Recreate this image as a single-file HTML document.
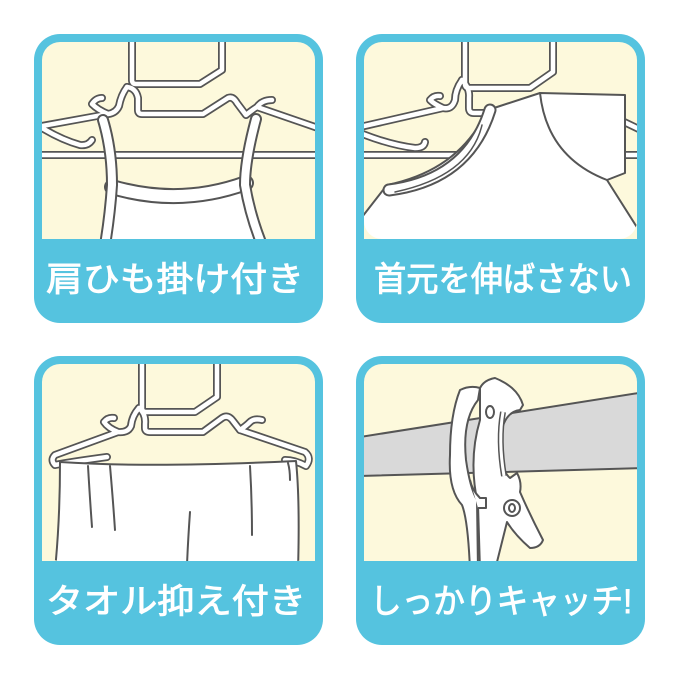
<!DOCTYPE html>
<html><head><meta charset="utf-8"><style>
html,body{margin:0;padding:0;background:#fff;}
svg{display:block;}
text{font-family:"Liberation Sans","Noto Sans CJK JP",sans-serif;fill:#fff;font-size:34px;stroke:#fff;stroke-width:0.9;}
</style></head><body>
<svg width="680" height="680" viewBox="0 0 680 680" xmlns="http://www.w3.org/2000/svg">
<defs>
<clipPath id="c1"><rect x="42" y="42" width="273" height="197" rx="18"/></clipPath>
<clipPath id="c2"><rect x="364" y="42" width="273" height="197" rx="18"/></clipPath>
<clipPath id="c3"><rect x="42" y="364" width="273" height="197" rx="18"/></clipPath>
<clipPath id="c4"><rect x="364" y="364" width="273" height="197" rx="18"/></clipPath>
</defs>
<g id="frames">
<rect x="34" y="34" width="289" height="289" rx="26" fill="#55c3df"/>
<rect x="42" y="42" width="273" height="230" rx="18" fill="#fdf9dc"/>
<rect x="42" y="239" width="273" height="40" fill="#55c3df"/>
<rect x="356" y="34" width="289" height="289" rx="26" fill="#55c3df"/>
<rect x="364" y="42" width="273" height="230" rx="18" fill="#fdf9dc"/>
<rect x="364" y="239" width="273" height="40" fill="#55c3df"/>
<rect x="34" y="356" width="289" height="289" rx="26" fill="#55c3df"/>
<rect x="42" y="364" width="273" height="230" rx="18" fill="#fdf9dc"/>
<rect x="42" y="561" width="273" height="40" fill="#55c3df"/>
<rect x="356" y="356" width="289" height="289" rx="26" fill="#55c3df"/>
<rect x="364" y="364" width="273" height="230" rx="18" fill="#fdf9dc"/>
<rect x="364" y="561" width="273" height="40" fill="#55c3df"/>
</g>

<!-- Panel 1 -->
<g clip-path="url(#c1)" fill="none" stroke-linecap="round" stroke-linejoin="round">
<g id="h1">
<path d="M132,38 V80 Q132,84 136,84 H200 L222,70 V38"/>
<path d="M127,87 Q136,88 138,98 V110 Q138,114 142,114 H203 L228,98 Q233,96 237,103 L246,115 Q252,110 257,107 Q262,100 272,100"/>
<path d="M127,87 Q121,95 119,106 Q116,113 108,114 Q98,110 92,104 Q96,98 102,98 M108,114 L42,126"/>
<path d="M42,128 Q62,140 80,145 Q88,146 92,140"/>
<path d="M257,107 L318,128"/>
<path d="M36,155 H322"/>
</g>
<use href="#h1" stroke="#555" stroke-width="8"/>
<use href="#h1" stroke="#fff" stroke-width="4.5"/>
<path d="M112,186 Q180,208 246,182 L262,245 L106,245 Z" fill="#fff" stroke="none"/>
<path d="M112,187 Q180,207 246,183" stroke="#555" stroke-width="16"/>
<path d="M112,187 Q180,207 246,183" stroke="#fff" stroke-width="12"/>
<path d="M103,120 Q112,150 112,185 Q110,215 105,245" stroke="#555" stroke-width="12"/>
<path d="M103,120 Q112,150 112,185 Q110,215 105,245" stroke="#fff" stroke-width="8"/>
<path d="M256,119 Q245,160 245,185 Q250,215 262,245" stroke="#555" stroke-width="12"/>
<path d="M256,119 Q245,160 245,185 Q250,215 262,245" stroke="#fff" stroke-width="8"/>
</g>

<!-- Panel 2 -->
<g clip-path="url(#c2)" fill="none" stroke-linecap="round" stroke-linejoin="round">
<g id="h2">
<path d="M465,38 V84 Q465,88 469,88 H530 L553,72 V38"/>
<path d="M462,80 Q470,88 469,98 V108 Q469,113 474,113 H500"/>
<path d="M462,80 Q455,90 455,100 Q452,110 443,108 Q434,104 430,100 Q434,95 440,96 M443,108 L360,127"/>
<path d="M360,133 Q390,145 415,148 Q424,148 425,142"/>
<path d="M358,155 H645"/>
<path d="M620,120 L645,132"/>
</g>
<use href="#h2" stroke="#555" stroke-width="8"/>
<use href="#h2" stroke="#fff" stroke-width="4.5"/>
<path d="M362,217 L387,185 Q460,170 487,110 L497,107 L540,93 L625,95 V173 L607,180 L645,240 L360,245 Z" fill="#fff" stroke="#555" stroke-width="2"/>
<path d="M540,93 Q547,157 607,180" stroke="#555" stroke-width="2"/>
<path d="M389,190 Q468,180 490,110" stroke="#555" stroke-width="13"/>
<path d="M389,190 Q468,180 490,110" stroke="#fff" stroke-width="9"/>
<path d="M395,192 Q470,176 482,125" stroke="#555" stroke-width="1.5"/>
</g>

<!-- Panel 3 -->
<g clip-path="url(#c3)" fill="none" stroke-linecap="round" stroke-linejoin="round">
<g id="h3">
<path d="M142,360 V408 Q142,412 146,412 H195 L217,397 V360"/>
<path d="M139,408 Q146,414 145,424 V428 Q145,432 150,432 H203 L222,418 Q228,414 233,421 L240,430 Q246,426 250,422 Q254,418 262,420"/>
<path d="M139,408 Q132,416 131,426 Q128,433 118,432 Q108,428 104,422 Q108,417 114,418 M118,432 L55,455 Q50,460 55,465 Q70,462 107,457"/>
<path d="M240,430 L305,452 Q312,458 306,466 Q295,460 285,460"/>
</g>
<use href="#h3" stroke="#555" stroke-width="8"/>
<use href="#h3" stroke="#fff" stroke-width="4.5"/>
<path d="M60,462 Q150,468 296,461 Q300,500 298,570 L55,570 Q60,520 60,462 Z" fill="#fff" stroke="#555" stroke-width="2"/>
<path d="M88,466 Q90,500 92,527 M110,466 Q113,500 115,530 M190,512 Q188,540 187,565 M250,466 Q252,500 252,535 M288,463 Q290,470 290,480" stroke="#555" stroke-width="2"/>
</g>

<!-- Panel 4 -->
<g clip-path="url(#c4)" stroke="#555" stroke-width="2" stroke-linejoin="round">
<path d="M360,437 L645,392 L645,468 L360,476 Z" fill="#d9d9d9"/>
<path d="M460,390 Q470,385 480,388 L478,400 Q462,420 466,460 Q470,488 477,500 L478,570 L470,570 Q468,520 462,505 Q448,490 450,455 Q450,415 460,390 Z" fill="#fff"/>
<path d="M480,388 Q484,380 495,378 Q505,382 512,388 Q520,395 523,405 L520,410 Q503,412 500,440 Q500,470 510,478 L517,473 Q522,482 520,492 Q530,515 543,540 Q540,548 530,548 Q515,535 507,522 L495,570 L480,570 L478,505 Q468,460 480,420 Z" fill="#fff"/>
<path d="M503,412 Q498,440 504,476" fill="none" stroke-width="6"/>
<path d="M503,412 Q498,440 504,476" fill="none" stroke="#fff" stroke-width="3"/>
<ellipse cx="490" cy="412" rx="4" ry="6" fill="#fff"/>
<circle cx="512" cy="508" r="8" fill="#fff"/>
<ellipse cx="512" cy="508" rx="3" ry="4" fill="#fff"/>
<path d="M470,480 Q472,490 480,498 L486,498 L486,508 L478,508" fill="#fff"/>
</g>

<text x="46" y="291" textLength="258" lengthAdjust="spacingAndGlyphs">肩ひも掛け付き</text>
<text x="374" y="291" textLength="258" lengthAdjust="spacingAndGlyphs">首元を伸ばさない</text>
<text x="46" y="613" textLength="260" lengthAdjust="spacingAndGlyphs">タオル抑え付き</text>
<text x="370" y="613" textLength="262" lengthAdjust="spacingAndGlyphs">しっかりキャッチ!</text>
</svg>
</body></html>
